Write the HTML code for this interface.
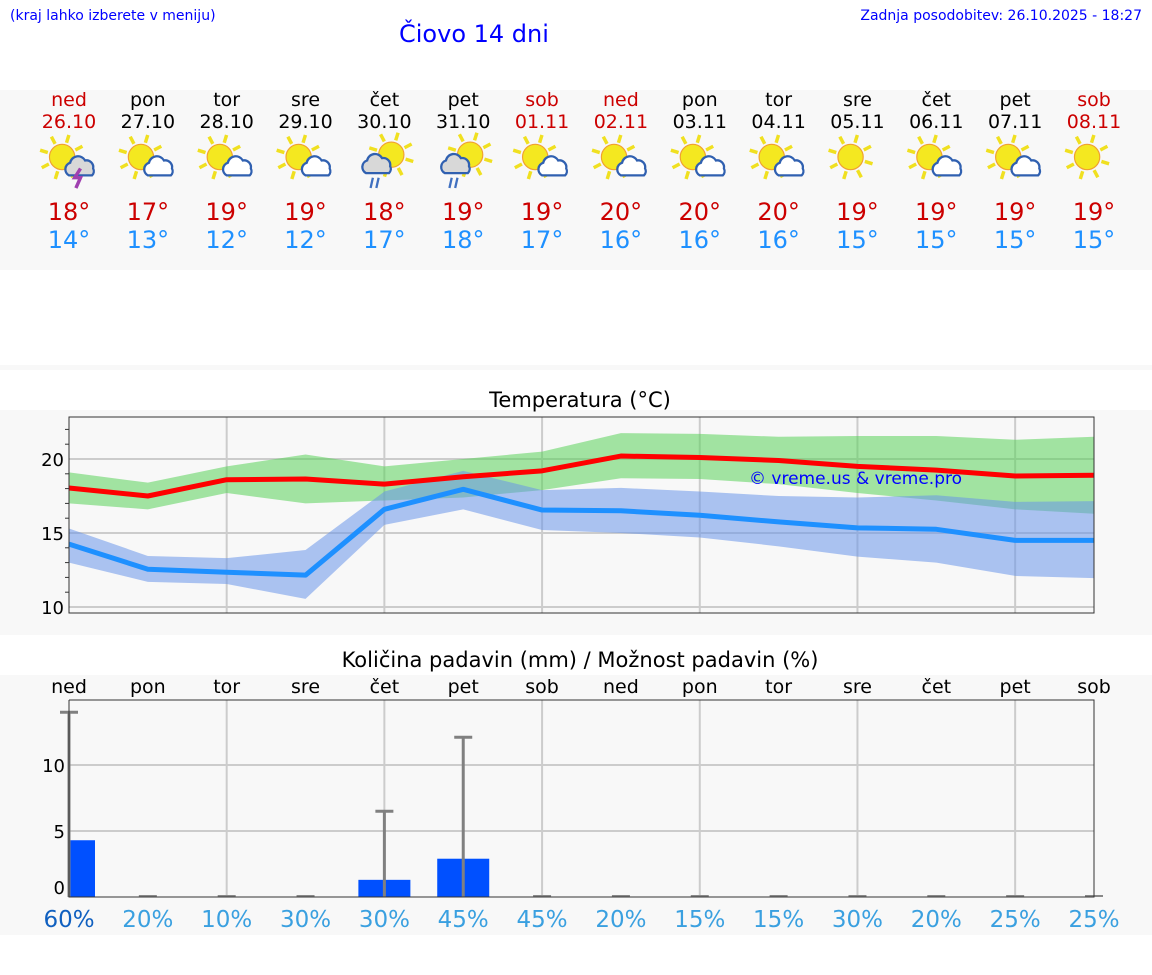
<!DOCTYPE html>
<html><head><meta charset="utf-8"><style>
body{margin:0;width:1152px;height:975px;background:#fff;font-family:"DejaVu Sans","Liberation Sans",sans-serif;position:relative;overflow:hidden}
.a{position:absolute}
</style></head><body>
<div class="a" style="left:10px;top:8px;font-size:14px;color:#00f">(kraj lahko izberete v meniju)</div>
<div class="a" style="left:399px;top:20px;font-size:24px;color:#00f">Čiovo 14 dni</div>
<div class="a" style="right:10px;top:8px;font-size:14px;color:#00f">Zadnja posodobitev: 26.10.2025 - 18:27</div>
<div class="a" style="left:0;top:90px;width:1152px;height:180px;background:#f8f8f8"></div>
<div class="a" style="left:0;top:365px;width:1152px;height:5px;background:#f8f8f8"></div>
<div class="a" style="left:0;top:410px;width:1152px;height:225px;background:#f8f8f8"></div>
<div class="a" style="left:0;top:675px;width:1152px;height:260px;background:#f8f8f8"></div>
<div class="a" style="left:0;width:1160px;text-align:center;top:388px;font-size:21px">Temperatura (°C)</div>
<div class="a" style="left:0;width:1160px;text-align:center;top:648px;font-size:21px">Količina padavin (mm) / Možnost padavin (%)</div>
<div id="hdr"></div>
<svg class="a" id="svg" style="left:0;top:0" width="1152" height="975"></svg>
<script>
const days=["ned","pon","tor","sre","čet","pet","sob","ned","pon","tor","sre","čet","pet","sob"];
const dates=["26.10","27.10","28.10","29.10","30.10","31.10","01.11","02.11","03.11","04.11","05.11","06.11","07.11","08.11"];
const hiLabels=[18,17,19,19,18,19,19,20,20,20,19,19,19,19];
const loLabels=[14,13,12,12,17,18,17,16,16,16,15,15,15,15];
const icons=["storm","pc","pc","pc","rain","rain","pc","pc","pc","pc","sun","pc","pc","sun"];
const tMax=[18.04,17.5,18.6,18.65,18.3,18.8,19.2,20.2,20.1,19.9,19.5,19.25,18.85,18.9];
const tMaxHi=[19.1,18.4,19.5,20.3,19.5,20,20.5,21.75,21.7,21.5,21.55,21.55,21.3,21.5];
const tMaxLo=[17,16.6,17.7,17,17.2,17.4,17.9,18.7,18.65,18.3,17.7,17.2,16.6,16.3];
const tMin=[14.25,12.55,12.35,12.15,16.6,17.95,16.55,16.5,16.2,15.75,15.35,15.25,14.5,14.5];
const tMinHi=[15.3,13.45,13.3,13.85,17.8,19.2,17.9,18.05,17.8,17.5,17.4,17.55,17.1,17.15];
const tMinLo=[13,11.7,11.55,10.55,15.55,16.6,15.2,15,14.7,14.1,13.4,13,12.1,11.95];
const precip=[4.3,0,0,0,1.3,2.9,0,0,0,0,0,0,0,0];
const precipMax=[14,0,0,0,6.5,12.1,0,0,0,0,0,0,0,0];
const chance=["60%","20%","10%","30%","30%","45%","45%","20%","15%","15%","30%","20%","25%","25%"];
const tTicks=[10,15,20];
const pTicks=[0,5,10];

const X0=69,X1=1094;
const x=i=>X0+i*(X1-X0)/(days.length-1);
const ty=v=>607-(v-10)*14.8;
const py=v=>897-v*13.2;
const NS="http://www.w3.org/2000/svg";
const svg=document.getElementById('svg');
function el(t,a,p){const e=document.createElementNS(NS,t);for(const k in a)e.setAttribute(k,a[k]);(p||svg).appendChild(e);return e;}
function txt(s,a,name){const e=el('text',a);e.textContent=s;return e;}
const weekend=i=>days[i]==="ned"||days[i]==="sob";

const hdr=document.getElementById('hdr');
days.forEach((d,i)=>{
  const c=weekend(i)?"#c00":"#000";
  const w=document.createElement('div');w.className='a';
  
  
  w.style.cssText=`left:${x(i)-40}px;top:89px;width:80px;text-align:center`;
  w.innerHTML=`<div style="font-size:19px;color:${c};line-height:22px">${d}</div><div style="font-size:19px;color:${c};line-height:22px">${dates[i]}</div>`+
   `<div style="height:65px"></div><div style="font-size:24px;color:#c00;line-height:28px">${hiLabels[i]}°</div><div style="font-size:24px;color:#1e90ff;line-height:28px">${loLabels[i]}°</div>`;
  hdr.appendChild(w);
  const g=el('g',{transform:`translate(${x(i)},157) scale(1.15)`});
  
  
  const rain=icons[i]==="rain";
  const sx=rain?6:-6,sy=rain?-2:0;
  for(let k=0;k<8;k++){const an=k*Math.PI/4+0.3;el('line',{x1:sx+Math.cos(an)*13,y1:sy+Math.sin(an)*13,x2:sx+Math.cos(an)*20,y2:sy+Math.sin(an)*20,stroke:"#f0e020","stroke-width":3},g);}
  el('circle',{cx:sx,cy:sy,r:11,fill:"#f4e820",stroke:"#f0a030","stroke-width":1},g);
  if(icons[i]!=="sun"){
    const cx=rain?-6:10,cy=rain?6:8;
    el('path',{d:`M${cx-10} ${cy+8} a6 6 0 0 1 1-11 a7 7 0 0 1 13-2 a6 6 0 0 1 7 7 a5 5 0 0 1-1 6z`,fill:rain||icons[i]==="storm"?"#d8d8d8":"#fff",stroke:"#3060b0","stroke-width":2},g);
    if(rain){el('path',{d:`M${cx-4} ${cy+12} l-2 9 M${cx+1} ${cy+12} l-2 9`,stroke:"#4070c0","stroke-width":2},g);}
    if(icons[i]==="storm"){el('path',{d:`M${cx} ${cy+2} l-5 8 h5 l-4 9`,stroke:"#a040b0","stroke-width":3,fill:"none"},g);}
  }
});

el('rect',{x:X0,y:417,width:X1-X0,height:196,fill:"#f8f8f8"});
tTicks.forEach(v=>{const l=el('line',{x1:X0,x2:X1,y1:ty(v),y2:ty(v),stroke:"#ccc","stroke-width":2});
  txt(v,{x:X0-5,y:ty(v)+7,"text-anchor":"end","font-size":18},'temp-y-tick');});
for(let v=11;v<=22;v++){if(v%5)el('line',{x1:X0-4,x2:X0,y1:ty(v),y2:ty(v),stroke:"#333"});}
days.forEach((d,i)=>{if(i%2===0&&i>0&&i<13)el('line',{x1:x(i),x2:x(i),y1:417,y2:613,stroke:"#ccc","stroke-width":2});});
function band(hi,lo,fill,name){let d="M"+hi.map((v,i)=>x(i)+" "+ty(v)).join(" L")+" L"+lo.map((v,i)=>x(i)+" "+ty(v)).reverse().join(" L")+"Z";
  const p=el('path',{d,fill,opacity:0.55});}
band(tMaxHi,tMaxLo,"#5ad15a","max-temp-range");
band(tMinHi,tMinLo,"#6a96ea","min-temp-range");
function line(vals,col,name){const p=el('polyline',{points:vals.map((v,i)=>x(i)+","+ty(v)).join(" "),fill:"none",stroke:col,"stroke-width":5,"stroke-linejoin":"round"});}
line(tMax,"#ff0000","max-temp-line");
line(tMin,"#1e90ff","min-temp-line");
el('rect',{x:X0,y:417,width:X1-X0,height:196,fill:"none",stroke:"#333"});
txt("© vreme.us & vreme.pro",{x:749,y:484,"font-size":17,fill:"#0000ff"},'watermark');

days.forEach((d,i)=>txt(d,{x:x(i),y:693,"text-anchor":"middle","font-size":19},'precip-day-label'));
el('rect',{x:X0,y:700,width:X1-X0,height:197,fill:"#f8f8f8"});
pTicks.forEach(v=>{if(v>0){const l=el('line',{x1:X0,x2:X1,y1:py(v),y2:py(v),stroke:"#ccc","stroke-width":2});}
  txt(v,{x:X0-4,y:py(v)+(v===0?-3:7),"text-anchor":"end","font-size":18},'precip-y-tick');});
days.forEach((d,i)=>{if(i%2===0&&i>0&&i<13)el('line',{x1:x(i),x2:x(i),y1:700,y2:897,stroke:"#ccc","stroke-width":2});});
precip.forEach((v,i)=>{
  if(v>0){const bx=i===0?X0:x(i)-26,bw=i===0?26:52;
    const r=el('rect',{x:bx,y:py(v),width:bw,height:py(0)-py(v),fill:"#0050ff"});}
  else{el('line',{x1:x(i)-9,x2:x(i)+9,y1:896,y2:896,stroke:"#888","stroke-width":2});}
  if(precipMax[i]>0){const e=el('path',{d:`M${x(i)} ${py(0)} V${py(precipMax[i])} M${x(i)-9} ${py(precipMax[i])} h18`,stroke:"#808080","stroke-width":3,fill:"none"});}
});
el('path',{d:`M${X0} 700 V897 H${X1} V700 H${X0}`,fill:"none",stroke:"#333"});
chance.forEach((c,i)=>txt(c,{x:x(i),y:927,"text-anchor":"middle","font-size":23,fill:i===0?"#1060c0":"#3aa0e0"},'precip-chance'));
</script>
</body></html>
